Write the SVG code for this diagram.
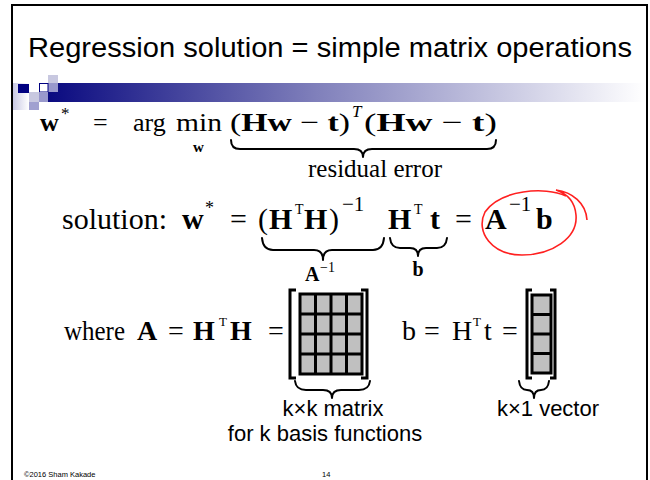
<svg xmlns="http://www.w3.org/2000/svg" width="650" height="480" viewBox="0 0 650 480">
<defs>
<linearGradient id="band" x1="0" y1="0" x2="1" y2="0">
<stop offset="0" stop-color="#0a0a80"/>
<stop offset="0.45" stop-color="#8080bb"/>
<stop offset="1" stop-color="#ffffff"/>
</linearGradient>
<linearGradient id="fade" x1="0" y1="0" x2="1" y2="0">
<stop offset="0" stop-color="#c8c8e4"/>
<stop offset="1" stop-color="#ffffff"/>
</linearGradient>
</defs>
<style>
.sans{font-family:"Liberation Sans",Arial,sans-serif;fill:#000}
.m{font-family:"Liberation Serif","Times New Roman",serif;fill:#000}
.b{font-weight:bold}
.brace{fill:none;stroke:#000;stroke-width:2;stroke-linecap:round;stroke-linejoin:round}
.brk{fill:none;stroke:#000;stroke-width:3}
.cell{fill:#c0c0c0;stroke:#000;stroke-width:3}
.grid{stroke:#000;stroke-width:3}
</style>
<rect x="0" y="0" width="650" height="480" fill="#fff"/>
<path d="M12,490 L12,5 L647,5 L647,490" fill="none" stroke="#000" stroke-width="2"/>

<g id="title">
<text class="sans" x="28" y="57" font-size="27" textLength="604" lengthAdjust="spacingAndGlyphs">Regression solution = simple matrix operations</text>
</g>

<g id="decoration">
<rect x="48" y="83" width="597" height="19" fill="url(#band)"/>
<rect x="13" y="83" width="16" height="27" fill="url(#fade)"/>
<rect x="18" y="84" width="11" height="9" fill="#000080"/>
<rect x="48" y="75" width="10" height="8" fill="#c8c8e0"/>
<rect x="48" y="83" width="10" height="9" fill="#9999cc"/>
<rect x="39.5" y="83.5" width="8.5" height="8.5" fill="#fff" stroke="#000080" stroke-width="1"/>
<rect x="29" y="92" width="10" height="10" fill="#c8c8e0"/>
<rect x="39" y="92" width="9" height="10" fill="#9999cc"/>
<rect x="29" y="102" width="10" height="8" fill="#a0a0d0"/>
</g>

<g id="eq1">
<text class="m b" x="40" y="131" font-size="26">w</text>
<text class="m" x="61" y="119" font-size="17">*</text>
<text class="m" x="93" y="131" font-size="26">=</text>
<text class="m" x="133" y="131" font-size="26">arg</text>
<text class="m" x="176" y="131" font-size="26" textLength="46" lengthAdjust="spacingAndGlyphs">min</text>
<text class="m b" x="193" y="152" font-size="15">w</text>
<text class="m" x="230" y="131" font-size="26" textLength="120" lengthAdjust="spacingAndGlyphs">(<tspan class="b">Hw</tspan> − <tspan class="b">t</tspan>)</text>
<text class="m" font-style="italic" x="352" y="117" font-size="17">T</text>
<text class="m" x="364" y="131" font-size="26" textLength="133" lengthAdjust="spacingAndGlyphs">(<tspan class="b">Hw</tspan> − <tspan class="b">t</tspan>)</text>
<text class="m" x="375" y="177" font-size="25" text-anchor="middle">residual error</text>
</g>

<g id="eq2">
<text class="m" x="62" y="229" font-size="30">solution:</text>
<text class="m b" x="182" y="229" font-size="30">w</text>
<text class="m" x="205" y="214" font-size="18">*</text>
<text class="m" x="230" y="229" font-size="30">=</text>
<text class="m" x="258" y="229" font-size="30">(</text>
<text class="m b" x="269" y="229" font-size="30">H</text>
<text class="m" x="295" y="214" font-size="14">T</text>
<text class="m b" x="304" y="229" font-size="30">H</text>
<text class="m" x="329" y="229" font-size="30">)</text>
<text class="m" x="342" y="211" font-size="21">−1</text>
<text class="m b" x="388" y="229" font-size="30">H</text>
<text class="m" x="414" y="214" font-size="14">T</text>
<text class="m b" x="430" y="229" font-size="30">t</text>
<text class="m" x="455" y="229" font-size="30">=</text>
<text class="m b" x="485" y="229" font-size="30">A</text>
<text class="m" x="509" y="211" font-size="21">−1</text>
<text class="m b" x="536" y="229" font-size="30">b</text>
<text class="m b" x="305" y="281" font-size="20">A</text>
<text class="m" x="320" y="272" font-size="14">−1</text>
<text class="m b" x="418" y="276" font-size="20" text-anchor="middle">b</text>
</g>

<g id="eq3">
<text class="m" x="64" y="340" font-size="27" textLength="61" lengthAdjust="spacingAndGlyphs">where</text>
<text class="m b" x="137" y="340" font-size="28">A</text>
<text class="m" x="168" y="340" font-size="28">=</text>
<text class="m b" x="193" y="340" font-size="28">H</text>
<text class="m" x="219" y="326" font-size="13">T</text>
<text class="m b" x="230" y="340" font-size="28">H</text>
<text class="m" x="268" y="340" font-size="28">=</text>
<text class="m" x="402" y="340" font-size="28">b</text>
<text class="m" x="424" y="340" font-size="28">=</text>
<text class="m" x="452" y="340" font-size="28">H</text>
<text class="m" x="473" y="326" font-size="13">T</text>
<text class="m" x="484" y="340" font-size="28">t</text>
<text class="m" x="502" y="340" font-size="28">=</text>
</g>

<g id="matrix">
<path class="brk" d="M296,290 L290,290 L290,378 L296,378"/>
<path class="brk" d="M361,290 L367,290 L367,378 L361,378"/>
<rect class="cell" x="300" y="294" width="62" height="80"/>
<path class="grid" d="M315.5,294 V374 M331,294 V374 M346.5,294 V374 M300,314 H362 M300,334 H362 M300,354 H362"/>
</g>

<g id="vector">
<path class="brk" d="M532,290 L527,290 L527,378 L532,378"/>
<path class="brk" d="M550,290 L555,290 L555,378 L550,378"/>
<rect class="cell" x="532" y="295" width="19" height="78"/>
<path class="grid" d="M532,314.5 H551 M532,334 H551 M532,353.5 H551"/>
</g>

<g id="labels">
<text class="sans" x="333" y="416" font-size="22" text-anchor="middle">k×k matrix</text>
<text class="sans" x="325" y="441" font-size="22" text-anchor="middle">for k basis functions</text>
<text class="sans" x="548" y="416" font-size="22" text-anchor="middle">k×1 vector</text>
<text class="sans" x="24" y="477" font-size="7.5" fill="#333">©2016 Sham Kakade</text>
<text class="sans" x="322" y="477" font-size="7.5" fill="#333">14</text>
</g>

<g id="connectors">
<path class="brace" d="M231,140 Q231,149 240,149 L354,149 Q363,149 363,157 Q363,149 372,149 L487,149 Q496,149 496,140"/>
<path class="brace" d="M262,238 Q263,250 273,250 L314,250 Q323,250 323,260 Q323,250 332,250 L373,250 Q383,250 384,238"/>
<path class="brace" d="M390,238 Q391,248 400,248 L410,248 Q418,248 418,256 Q418,248 426,248 L437,248 Q446,248 447,238"/>
<path class="brace" d="M295,381 Q296,390 306,390 L323,390 Q332,390 332,398 Q332,390 341,390 L359,390 Q369,390 370,381"/>
<path class="brace" d="M519,381 Q520,390 527,390 Q534,390 534,398 Q534,390 541,390 Q548,390 549,381"/>
<path d="M566,196 C545,186 500,190 485,212 C475,232 492,255 522,255 C552,255 578,238 576,215 C575,203 568,194 556,190 C572,192 586,203 587,220" fill="none" stroke="#ff2020" stroke-width="1.6"/>
</g>
</svg>
